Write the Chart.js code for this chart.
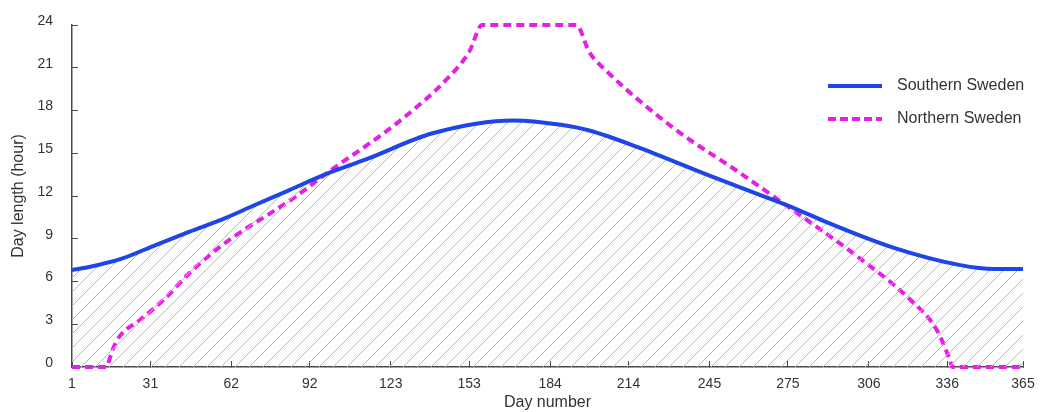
<!DOCTYPE html>
<html>
<head>
<meta charset="utf-8">
<script src="https://cdn.jsdelivr.net/npm/chart.js@4"></script>
<style>
  html, body { margin: 0; padding: 0; background: #fff; }
</style>
</head>
<body>
<canvas id="daylen" width="1042" height="412"></canvas>
<script>
// day-of-year ticks (first of each month)
const dayTicks = [1, 31, 62, 92, 123, 153, 184, 214, 245, 275, 306, 336, 365]

// Southern Sweden
const southDays  = [1, 8, 20, 33, 46, 59, 71, 84, 97, 114, 139, 170, 188, 199, 218, 244, 264, 278, 290, 315, 341, 354, 365]
const southHours = [6.8, 7.03, 7.6, 8.56, 9.5, 10.4, 11.37, 12.4, 13.45, 14.6, 16.4, 17.3, 17.0, 16.6, 15.4, 13.5, 12.1, 11.1, 10.15, 8.4, 7.15, 6.88, 6.88]

// Northern Sweden
const northDays  = [1, 14, 16.5, 19, 27, 36, 46, 56, 65, 77, 87, 97, 126, 145, 153, 158, 194, 199, 206, 231, 256, 277, 302, 322, 332, 337, 338, 365]
const northHours = [0, 0, 1.2, 2.1, 3.3, 4.7, 6.6, 8.2, 9.4, 10.8, 12.0, 13.4, 17.2, 20.3, 22.1, 24, 24, 22.1, 20.7, 16.8, 13.7, 11.0, 7.7, 4.7, 2.6, 0.5, 0, 0]

const seriesNames = ['Southern Sweden', 'Northern Sweden']

const toPoints = (xs, ys) => xs.map((x, i) => ({ x: x, y: ys[i] }))

// diagonal hatch for the area under the southern curve
function hatch() {
  const s = 14
  const c = document.createElement('canvas')
  c.width = s; c.height = s
  const g = c.getContext('2d')
  g.strokeStyle = '#b8b8b8'
  g.lineWidth = 1
  g.beginPath()
  g.moveTo(-1, s + 1); g.lineTo(s + 1, -1)
  g.moveTo(-1, 1); g.lineTo(1, -1)
  g.moveTo(s - 1, s + 1); g.lineTo(s + 1, s - 1)
  g.stroke()
  return g.createPattern(c, 'repeat')
}

const blue = '#1d45e8'
const magenta = '#e520e5'
const axisCol = '#4a4a4a'
const titleFont = { size: 16 }

// legend in the upper right of the plot
const lineLegend = {
  id: 'lineLegend',
  afterDraw(chart) {
    const ctx = chart.ctx
    const items = [
      { label: seriesNames[0], color: blue, dash: [], y: 86 },
      { label: seriesNames[1], color: magenta, dash: [8, 4], y: 119 }
    ]
    ctx.save()
    ctx.font = '16px "Liberation Sans", Arial, sans-serif'
    ctx.textBaseline = 'middle'
    items.forEach(it => {
      ctx.strokeStyle = it.color
      ctx.lineWidth = 4
      ctx.setLineDash(it.dash)
      ctx.beginPath()
      ctx.moveTo(828, it.y)
      ctx.lineTo(882, it.y)
      ctx.stroke()
      ctx.setLineDash([])
      ctx.fillStyle = '#333'
      ctx.fillText(it.label, 897, it.y)
    })
    ctx.restore()
  }
}

Chart.defaults.font.family = '"Liberation Sans", Arial, sans-serif'
Chart.defaults.font.size = 14
Chart.defaults.color = '#333'

new Chart(document.getElementById('daylen'), {
  type: 'line',
  data: {
    datasets: [{
      label: seriesNames[0],
      data: toPoints(southDays, southHours),
      borderColor: blue,
      borderWidth: 4,
      backgroundColor: hatch(),
      fill: 'origin',
      cubicInterpolationMode: 'monotone',
      pointRadius: 0,
      clip: false
    }, {
      label: seriesNames[1],
      data: toPoints(northDays, northHours),
      borderColor: magenta,
      borderWidth: 4,
      borderDash: [8, 5],
      fill: false,
      cubicInterpolationMode: 'monotone',
      pointRadius: 0,
      clip: false
    }]
  },
  options: {
    responsive: false,
    animation: false,
    layout: { padding: { top: 25, right: 19, bottom: 0, left: 0 } },
    plugins: {
      legend: { display: false },
      tooltip: { enabled: false }
    },
    scales: {
      x: {
        type: 'linear',
        min: 1,
        max: 365,
        afterBuildTicks: scale => { scale.ticks = dayTicks.map(v => ({ value: v })) },
        // fixed axis height; label padding shouldn't push the plot edges in
        afterFit: scale => { scale.height = 45; scale.paddingLeft = 0; scale.paddingRight = 0 },
        ticks: { padding: 15, autoSkip: false, maxRotation: 0 },
        grid: { drawOnChartArea: false, tickLength: -6, tickColor: axisCol, lineWidth: 1 },
        border: { color: axisCol, width: 1.5 },
        title: { display: true, text: 'Day number', font: titleFont, padding: { top: 0, bottom: 0 } }
      },
      y: {
        min: 0,
        max: 24,
        ticks: { stepSize: 3, padding: 25, labelOffset: -4 },
        afterFit: scale => { scale.width = 72; scale.paddingTop = 0; scale.paddingBottom = 0 },
        grid: { drawOnChartArea: false, tickLength: -6, tickColor: axisCol, lineWidth: 1 },
        border: { color: axisCol, width: 1.5 },
        title: { display: true, text: 'Day length (hour)', font: titleFont, padding: { top: 9, bottom: 0 } }
      }
    }
  },
  plugins: [lineLegend]
})
</script>
</body>
</html>
